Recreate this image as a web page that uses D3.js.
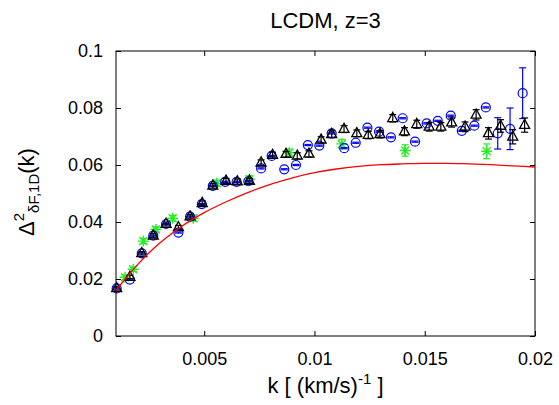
<!DOCTYPE html>
<html>
<head>
<meta charset="utf-8">
<script src="https://cdn.jsdelivr.net/npm/d3@7"></script>
<style>
  body { margin: 0; background: #fff; }
  text { font-family: "Liberation Sans", Arial, sans-serif; }
</style>
</head>
<body>
<div id="chart"></div>
<script>
// black triangles
const kTri = [0.00103, 0.00163, 0.00217, 0.00269, 0.00327, 0.00383, 0.00436, 0.00491, 0.00539, 0.00599,
  0.00650, 0.00705, 0.00758, 0.00810, 0.00871, 0.00922, 0.00975, 0.0103, 0.01078, 0.01134,
  0.01192, 0.01244, 0.01297, 0.01355, 0.01408, 0.01464, 0.0152, 0.01573, 0.01622, 0.01683,
  0.01733, 0.01789, 0.01844, 0.01899, 0.01953];
const pTri = [0.0167, 0.0207, 0.0290, 0.0352, 0.0393, 0.0381, 0.0419, 0.0466, 0.0527, 0.0544,
  0.0542, 0.0544, 0.0608, 0.0635, 0.0638, 0.0632, 0.0639, 0.0688, 0.0708, 0.0726,
  0.0711, 0.0705, 0.0708, 0.0764, 0.0717, 0.0743, 0.0734, 0.0734, 0.0749, 0.0734,
  0.0776, 0.0711, 0.0737, 0.0699, 0.0740];
const eTri = [0.0006, 0.0006, 0.0006, 0.0007, 0.0007, 0.0007, 0.0008, 0.0008, 0.0008, 0.0009,
  0.0009, 0.0009, 0.0010, 0.0010, 0.0010, 0.0011, 0.0011, 0.0011, 0.0012, 0.0012,
  0.0012, 0.0013, 0.0013, 0.0013, 0.0014, 0.0014, 0.0015, 0.0015, 0.0016, 0.0017,
  0.0018, 0.0020, 0.0022, 0.0025, 0.0025];

// blue circles
const kCirc = [0.00103, 0.00163, 0.00217, 0.00269, 0.00327, 0.00383, 0.00436, 0.00489, 0.00539, 0.00595,
  0.00647, 0.00700, 0.00758, 0.00806, 0.00863, 0.00916, 0.0097, 0.01022, 0.01078, 0.01135,
  0.01187, 0.0124, 0.01293, 0.01347, 0.014, 0.01456, 0.01509, 0.01559, 0.01618, 0.01668,
  0.01725, 0.01777, 0.01831, 0.01887, 0.01944];
const pCirc = [0.0167, 0.0198, 0.0290, 0.0352, 0.0393, 0.0363, 0.0419, 0.0463, 0.0527, 0.0541,
  0.0541, 0.0543, 0.0588, 0.0632, 0.0585, 0.0600, 0.0670, 0.0668, 0.0711, 0.0659,
  0.0678, 0.0731, 0.0717, 0.0697, 0.0764, 0.0682, 0.0746, 0.0755, 0.0773, 0.0720,
  0.0738, 0.0802, 0.0711, 0.0727, 0.0852];
const eCirc = [0.0002, 0.0002, 0.0002, 0.0002, 0.0002, 0.0002, 0.0002, 0.0002, 0.0002, 0.0002,
  0.0002, 0.0002, 0.0002, 0.0002, 0.0002, 0.0002, 0.0002, 0.0002, 0.0002, 0.0002,
  0.0002, 0.0002, 0.0002, 0.0002, 0.0002, 0.0002, 0.0002, 0.0002, 0.0002, 0.0002,
  0.0002, 0.0002, 0.0055, 0.0073, 0.0089];

// green stars
const kStar = [0.00141, 0.00178, 0.00224, 0.00281, 0.00357, 0.0045, 0.00557, 0.00705, 0.00886, 0.01124, 0.01411, 0.01781];
const pStar = [0.0206, 0.0234, 0.0333, 0.0374, 0.0413, 0.0413, 0.0536, 0.0550, 0.0643, 0.0674, 0.0651, 0.0648];
const eStar = [0.0008, 0.0008, 0.0009, 0.0009, 0.0010, 0.0010, 0.0011, 0.0012, 0.0013, 0.0016, 0.0020, 0.0026];

// red model curve
const kModel = [0.001, 0.0015, 0.002, 0.0025, 0.003, 0.0035, 0.004, 0.0045, 0.005, 0.006,
  0.007, 0.008, 0.009, 0.010, 0.011, 0.012, 0.013, 0.014, 0.015, 0.016,
  0.017, 0.018, 0.019, 0.020];
const pModel = [0.0160, 0.0208, 0.0252, 0.0292, 0.0327, 0.0358, 0.0386, 0.0411, 0.0433, 0.0471,
  0.0504, 0.0532, 0.0555, 0.0573, 0.0586, 0.0595, 0.0601, 0.0604, 0.0606, 0.0606,
  0.0604, 0.0601, 0.0597, 0.0593];

const xTicks = [0.005, 0.01, 0.015, 0.02];
const xTickLabels = ["0.005", "0.01", "0.015", "0.02"];
const yTicks = [0, 0.02, 0.04, 0.06, 0.08, 0.1];
const yTickLabels = ["0", "0.02", "0.04", "0.06", "0.08", "0.1"];

class PowerChart {
    constructor(container) {
        this.container = container;
        this.margin = {top: 51, right: 24, bottom: 69, left: 116};
        this.width = 559 - this.margin.left - this.margin.right;
        this.height = 405 - this.margin.top - this.margin.bottom;
        this.init();
    }
    init() {
        this.root = d3.select(this.container)
            .append("svg")
            .attr("width", 559)
            .attr("height", 405)
            .style("background", "#fff");
        this.svg = this.root.append("g")
            .attr("transform", `translate(${this.margin.left},${this.margin.top})`);
        this.x = d3.scaleLinear().domain([0.001, 0.02]).range([0, this.width]);
        this.y = d3.scaleLinear().domain([0, 0.1]).range([this.height, 0]);
    }
    axes() {
        const fmtX = d => xTickLabels[xTicks.indexOf(d)];
        const fmtY = d => yTickLabels[yTicks.indexOf(d)];
        const styleAxis = g => {
            g.select(".domain").remove();
            g.selectAll("line").attr("stroke", "#000");
            g.selectAll("text").attr("fill", "#000").style("font-size", "18px");
        };
        this.svg.append("g")
            .attr("transform", `translate(0,${this.height})`)
            .call(d3.axisBottom(this.x).tickValues(xTicks).tickFormat(fmtX).tickSize(-5).tickPadding(16))
            .call(styleAxis);
        this.svg.append("g")
            .call(d3.axisTop(this.x).tickValues(xTicks).tickFormat("").tickSize(-5))
            .call(styleAxis);
        this.svg.append("g")
            .call(d3.axisLeft(this.y).tickValues(yTicks).tickFormat(fmtY).tickSize(-5).tickPadding(13))
            .call(styleAxis);
        this.svg.append("g")
            .attr("transform", `translate(${this.width},0)`)
            .call(d3.axisRight(this.y).tickValues(yTicks).tickFormat("").tickSize(-5))
            .call(styleAxis);
        this.svg.append("rect")
            .attr("width", this.width)
            .attr("height", this.height)
            .attr("fill", "none")
            .attr("stroke", "#000")
            .attr("stroke-width", 1);
    }
    errorBars(g, ks, ps, es, color) {
        const rows = ks.map((k, i) => ({k: k, p: ps[i], e: es[i]}));
        const bars = g.selectAll(null).data(rows).enter().append("g")
            .attr("stroke", color).attr("stroke-width", 1.2).attr("fill", "none");
        bars.append("line")
            .attr("x1", d => this.x(d.k)).attr("x2", d => this.x(d.k))
            .attr("y1", d => this.y(d.p - d.e)).attr("y2", d => this.y(d.p + d.e));
        [-1, 1].forEach(s => {
            bars.append("line")
                .attr("x1", d => this.x(d.k) - 3.5).attr("x2", d => this.x(d.k) + 3.5)
                .attr("y1", d => this.y(d.p + s * d.e)).attr("y2", d => this.y(d.p + s * d.e));
        });
        return rows;
    }
    render() {
        this.axes();
        const plot = this.svg.append("g");

        // green stars
        const stars = this.errorBars(plot, kStar, pStar, eStar, "#22ee22");
        plot.selectAll(".star").data(stars).enter().append("path")
            .attr("class", "star")
            .attr("transform", d => `translate(${this.x(d.k)},${this.y(d.p)})`)
            .attr("d", "M-5.5,0H5.5M0,-5.5V5.5M-4,-4L4,4M-4,4L4,-4")
            .attr("stroke", "#22ee22").attr("stroke-width", 1.4).attr("fill", "none");

        // blue circles
        const circs = this.errorBars(plot, kCirc, pCirc, eCirc, "#0000ff");
        plot.selectAll(".circ").data(circs).enter().append("circle")
            .attr("class", "circ")
            .attr("cx", d => this.x(d.k)).attr("cy", d => this.y(d.p)).attr("r", 4.5)
            .attr("stroke", "#0000ff").attr("stroke-width", 1.2).attr("fill", "none");

        // black triangles
        const tris = this.errorBars(plot, kTri, pTri, eTri, "#000");
        plot.selectAll(".tri").data(tris).enter().append("path")
            .attr("class", "tri")
            .attr("transform", d => `translate(${this.x(d.k)},${this.y(d.p)})`)
            .attr("d", "M0,-5.8L5,3.3L-5,3.3Z")
            .attr("stroke", "#000").attr("stroke-width", 1.3).attr("fill", "none");

        // model line
        const line = d3.line()
            .x((d, i) => this.x(kModel[i]))
            .y(d => this.y(d))
            .curve(d3.curveMonotoneX);
        plot.append("path")
            .datum(pModel)
            .attr("d", line)
            .attr("fill", "none")
            .attr("stroke", "#ff0000")
            .attr("stroke-width", 1.3);

        // title and labels
        this.root.append("text")
            .attr("x", this.margin.left + this.width / 2)
            .attr("y", 28)
            .attr("text-anchor", "middle")
            .style("font-size", "22px")
            .text("LCDM, z=3");

        const xl = this.root.append("text")
            .attr("x", this.margin.left + this.width / 2)
            .attr("y", 393)
            .attr("text-anchor", "middle")
            .style("font-size", "22px");
        xl.append("tspan").text("k [ (km/s)");
        xl.append("tspan").attr("dy", -9).style("font-size", "15px").text("-1");
        xl.append("tspan").attr("dy", 9).text(" ]");

        const yl = this.root.append("text")
            .attr("transform", `translate(34,192) rotate(-90)`)
            .attr("text-anchor", "middle")
            .style("font-size", "22px");
        yl.append("tspan").text("\u0394");
        yl.append("tspan").attr("dy", -10).style("font-size", "15px").text("2");
        yl.append("tspan").attr("dy", 15).style("font-size", "15px").text("\u03b4F,1D");
        yl.append("tspan").attr("dy", -5).text("(k)");
    }
}

const chart = new PowerChart("#chart");
chart.render();
</script>
</body>
</html>
